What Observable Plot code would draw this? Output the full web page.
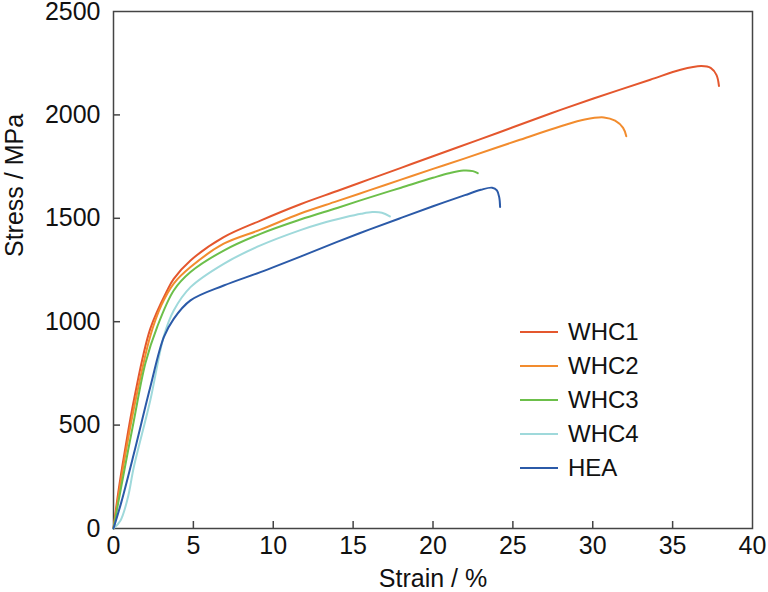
<!DOCTYPE html>
<html>
<head>
<meta charset="utf-8">
<script src="https://cdn.jsdelivr.net/npm/d3@7"></script>
<script src="https://cdn.jsdelivr.net/npm/@observablehq/plot@0.6"></script>
<style>
  body { margin: 0; background: #fff; }
  #wrap { position: relative; width: 768px; height: 592px; font-family: "Liberation Sans", Arial, sans-serif; }
  #legend { position: absolute; left: 520px; top: 315px; font-size: 24px; color: #111; }
  #legend .row { display: flex; align-items: center; height: 34px; }
  #legend .sw { width: 38px; height: 2px; margin-right: 10px; }
</style>
</head>
<body>
<div id="wrap"></div>
<script>
const seriesNames = ["WHC1", "WHC2", "WHC3", "WHC4", "HEA"];
const seriesColors = ["#e4572e", "#f28c2e", "#6cbf4a", "#9fd9db", "#2b5aa8"];
const xTicks = [0, 5, 10, 15, 20, 25, 30, 35, 40];
const yTicks = [0, 500, 1000, 1500, 2000, 2500];
const xLabel = "Strain / %";
const yLabel = "Stress / MPa";

const whc1 = [[0,0],[0.3,175],[0.7,370],[1.3,630],[2.3,965],[3.36,1151],[3.77,1207],[4.82,1296],[6.9,1409],[9.2,1489],[11.7,1568],[14,1632],[16,1688],[18,1744],[20,1800],[22.8,1878],[25,1940],[27.4,2008],[30,2078],[33.6,2170],[35.5,2218],[36.8,2236],[37.4,2226],[37.75,2192],[37.9,2140]];
const whc2 = [[0,0],[0.3,150],[0.7,340],[1.3,590],[2.3,930],[3.0,1080],[3.77,1184],[4.82,1264],[6.9,1377],[9.2,1445],[11.7,1523],[14,1583],[16,1635],[18,1687],[20,1739],[22,1790],[25.3,1876],[28,1945],[29.5,1978],[30.7,1988],[31.4,1972],[31.9,1937],[32.1,1897]];
const whc3 = [[0,0],[0.44,184],[1.27,520],[2.0,800],[2.73,974],[3.77,1151],[4.82,1240],[6.9,1344],[9.2,1425],[11.7,1494],[14,1550],[16,1600],[18,1648],[20,1696],[21,1718],[21.9,1731],[22.5,1728],[22.8,1718]];
const whc4 = [[0,0],[0.44,39],[0.9,150],[1.27,296],[2.3,619],[3.15,930],[3.77,1054],[4.82,1167],[6.9,1280],[9.2,1369],[11.7,1443],[13,1475],[14.5,1505],[15.5,1522],[16.2,1530],[16.8,1527],[17.3,1509]];
const hea = [[0,0],[0.5,130],[1.27,360],[2.3,683],[3.15,925],[3.77,1014],[4.82,1103],[6.9,1175],[9.2,1240],[11.7,1315],[14,1386],[16,1445],[18,1502],[20,1558],[22,1612],[23,1638],[23.7,1648],[24,1635],[24.15,1600],[24.2,1555]];

const seriesData = [whc1, whc2, whc3, whc4, hea];
const rows = seriesData.flatMap((pts, i) => pts.map(([x, y]) => ({name: seriesNames[i], x, y})));

const chart = Plot.plot({
  width: 768,
  height: 592,
  marginLeft: 113,
  marginRight: 16,
  marginTop: 11,
  marginBottom: 64,
  style: {fontFamily: "'Liberation Sans', Arial, sans-serif", fontSize: "25px", color: "#111", background: "#fff"},
  x: {domain: [0, 40]},
  y: {domain: [0, 2500]},
  color: {domain: seriesNames, range: seriesColors},
  marks: [
    Plot.frame({stroke: "#444", strokeWidth: 1.5}),
    Plot.tickX(xTicks.slice(1, -1), {x: d => d, stroke: "#444", strokeWidth: 1.5, insetTop: 510}),
    Plot.tickY(yTicks.slice(1, -1), {y: d => d, stroke: "#444", strokeWidth: 1.5, insetRight: 632}),
    Plot.axisX({ticks: xTicks, tickSize: 0, tickPadding: 8, fontSize: 25, tickFormat: d => String(d), label: null}),
    Plot.axisY({ticks: yTicks, tickSize: 0, tickPadding: 13, fontSize: 25, tickFormat: d => String(d), label: null}),
    Plot.text([xLabel], {text: d => d, frameAnchor: "bottom", lineAnchor: "middle", dy: 50, fontSize: 25, fill: "#111"}),
    Plot.text([yLabel], {text: d => d, frameAnchor: "left", lineAnchor: "middle", rotate: -90, dx: -99, dy: -13, fontSize: 25, fill: "#111"}),
    Plot.line(rows, {x: "x", y: "y", z: "name", stroke: "name", strokeWidth: 2, curve: "catmull-rom"})
  ]
});
document.getElementById("wrap").appendChild(chart);

const legend = document.createElement("div");
legend.id = "legend";
seriesNames.forEach((n, i) => {
  const r = document.createElement("div");
  r.className = "row";
  const s = document.createElement("div");
  s.className = "sw";
  s.style.background = seriesColors[i];
  const t = document.createElement("span");
  t.textContent = n;
  r.appendChild(s); r.appendChild(t);
  legend.appendChild(r);
});
document.getElementById("wrap").appendChild(legend);
</script>
</body>
</html>
